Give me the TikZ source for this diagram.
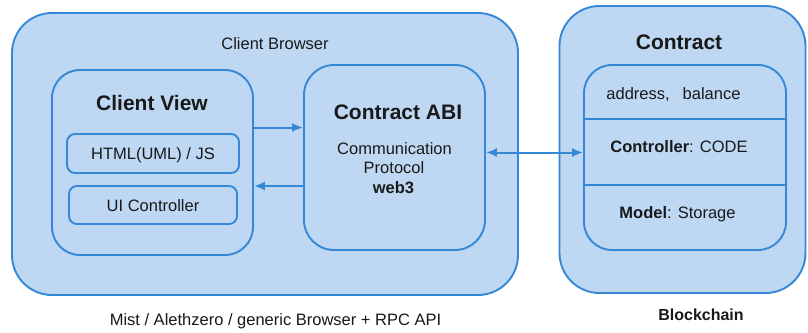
\documentclass[tikz,border=0pt]{standalone}
\usepackage{fontspec}
\setmainfont{Liberation Sans}
\usetikzlibrary{arrows.meta}
\definecolor{boxfill}{RGB}{190,216,244}
\definecolor{boxline}{RGB}{52,136,214}
\definecolor{txt}{RGB}{25,25,25}
\begin{document}
\begin{tikzpicture}[x=1pt,y=-1pt,
  box/.style={draw=boxline, fill=boxfill, line width=1.9pt, inner sep=0pt},
  lbl/.style={anchor=base, inner sep=0pt, text=txt, font=\fontsize{16.5}{19.5}\selectfont},
  title/.style={anchor=base, inner sep=0pt, text=txt, font=\fontsize{21}{25}\selectfont\bfseries},
  arr/.style={draw=boxline, line width=2pt, -{Latex[length=11pt,width=9pt]}},
  darr/.style={draw=boxline, line width=2pt, {Latex[length=11pt,width=9pt]}-{Latex[length=11pt,width=9pt]}},
  divider/.style={draw=boxline, line width=1.7pt}]
\path[fill=white, use as bounding box] (0,0) rectangle (808,332);

% outer boxes
\node[box, rounded corners=40pt, minimum width=506pt, minimum height=282pt] (browser) at (265,154) {};
\node[box, rounded corners=40pt, minimum width=246pt, minimum height=287pt] (contract) at (682.5,149.5) {};

% client view
\node[box, rounded corners=28pt, minimum width=201pt, minimum height=185pt] (cv) at (152.5,162.5) {};
\node[box, rounded corners=8pt, minimum width=172pt, minimum height=39pt] (html) at (153,153.5) {};
\node[box, rounded corners=8pt, minimum width=168pt, minimum height=38pt] (ui) at (153,205) {};

% contract ABI
\node[box, rounded corners=30pt, minimum width=181pt, minimum height=185pt] (abi) at (394.5,157.5) {};

% contract inner
\node[box, rounded corners=28pt, minimum width=202pt, minimum height=185pt] (inner) at (685,157.5) {};
\coordinate (d1) at (0,119);
\coordinate (d2) at (0,185);
\draw[divider] (inner.west |- d1) -- (inner.east |- d1);
\draw[divider] (inner.west |- d2) -- (inner.east |- d2);

% texts
\node[lbl] (tbrowser) at (275,49) {Client Browser};
\node[title] (tcv) at (152,110) {Client View};
\node[lbl] (thtml) at (153,159.5) {HTML(UML) / JS};
\node[lbl] (tui) at (153,211) {UI Controller};
\node[title] (tabi) at (398,119) {Contract ABI};
\node[lbl] (tcomm) at (394.5,154) {Communication};
\node[lbl] (tprot) at (394,173) {Protocol};
\node[lbl, font=\fontsize{16.5}{19.5}\selectfont\bfseries] (tweb) at (393.5,193) {web3};
\node[title] (tcontract) at (679,49) {Contract};
\node[lbl] (taddr) at (673.5,99) {address,\hspace{13pt}balance};
\node[lbl] (tctrl) at (679,152) {\textbf{Controller}: CODE};
\node[lbl] (tmodel) at (677.5,218) {\textbf{Model}: Storage};
\node[lbl] (tmist) at (275.5,325) {Mist / Alethzero / generic Browser + RPC API};
\node[lbl, font=\fontsize{16}{19}\selectfont\bfseries] (tblock) at (701,320) {Blockchain};

% connectors
\coordinate (a1) at (0,127.5);
\coordinate (a2) at (0,186);
\coordinate (a3) at (0,152.5);
\draw[arr] (cv.east |- a1) -- (abi.west |- a1);
\draw[arr] (abi.west |- a2) -- (cv.east |- a2);
\draw[darr] (abi.east |- a3) -- (inner.west |- a3);
\end{tikzpicture}
\end{document}
